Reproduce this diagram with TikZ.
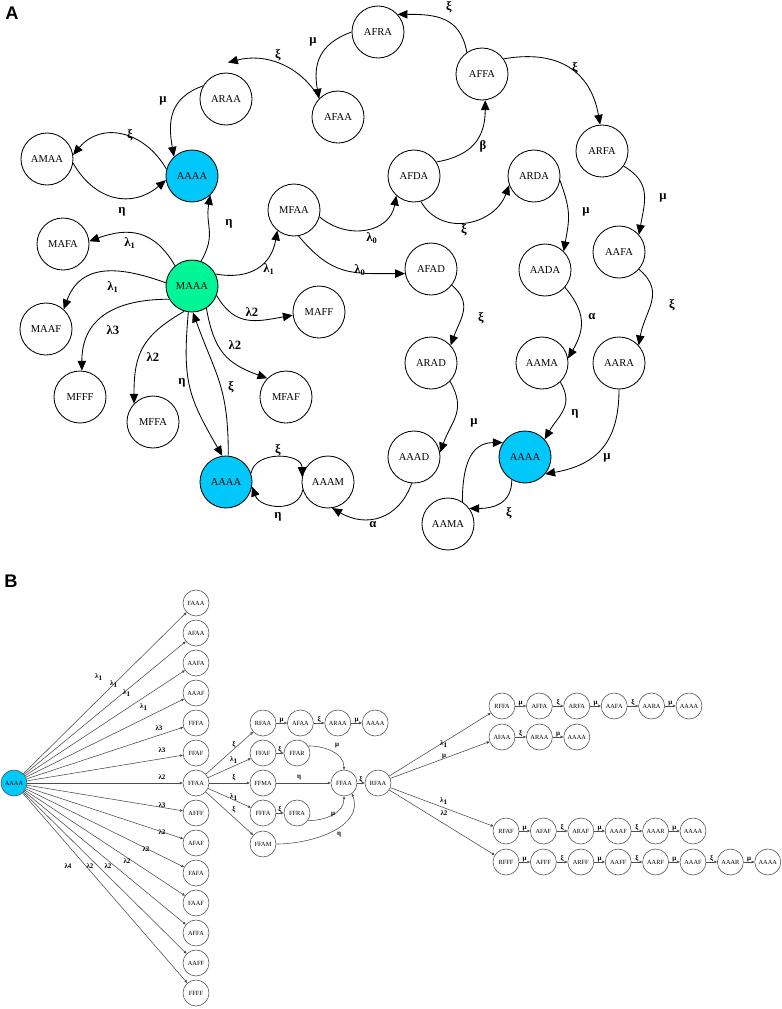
\documentclass[tikz,border=0pt]{standalone}
\usepackage{fontspec}
\setmainfont{Liberation Serif}
\newfontfamily\panelfont{Liberation Sans}
\usetikzlibrary{arrows.meta,calc}

\definecolor{stateblue}{RGB}{0,200,250}
\definecolor{stategreen}{RGB}{0,245,150}

\tikzset{
    st/.style={circle,draw,line width=0.6pt,minimum size=1.3cm,inner sep=0pt,font=\fontsize{7.5}{9}\selectfont},
    arr/.style={line width=0.6pt,-{Triangle[length=7pt,width=6pt]}},
    lab/.style={font=\fontsize{9}{10}\selectfont\bfseries,inner sep=0pt},
    bst/.style={circle,draw=black!70,line width=0.4pt,minimum size=0.65cm,inner sep=0pt,font=\fontsize{4.5}{5}\selectfont},
    barr/.style={draw=black!70,line width=0.4pt,-{Triangle[length=2pt,width=1.8pt]}},
    blab/.style={font=\fontsize{5}{6}\selectfont\bfseries,inner sep=0.5pt},
    panel/.style={font=\panelfont\fontsize{13}{14}\selectfont\bfseries,inner sep=0pt}
}

\begin{document}
\begin{tikzpicture}[x=0.025cm,y=0.025cm]
        \useasboundingbox (0,0) rectangle (782,-1009);

        % A: Zustaende
        \node[panel] (pA) at (12,-13) {A};
        \foreach \n/\t/\x/\y in {AFRA/AFRA/378/32,ARAA/ARAA/226/99,AFAA/AFAA/338/117,AMAA/AMAA/47/159,
            MFAA/MFAA/294/210,MAFA/MAFA/63/244,AFFA/AFFA/482/74,ARFA/ARFA/602/151,AFDA/AFDA/414/176,
            ARDA/ARDA/534/176,AADA/AADA/545/270,AAFA/AAFA/619/252,AFAD/AFAD/431/269,MAAF/MAAF/46/329,
            MAFF/MAFF/319/312,MFFF/MFFF/80/397,MFFA/MFFA/153/422,MFAF/MFAF/286/397,AAAM/AAAM/328/482,
            ARAD/ARAD/431/363,AAMA/AAMA/542/363,AARA/AARA/619/363,AAAD/AAAD/414/457,AAMAl/AAMA/448/524}
            {
                \node[st] (\n) at (\x,-\y) {\t};
            }
        \node[st,fill=stateblue] (AAAAt) at (192,-176) {AAAA};
        \node[st,fill=stateblue] (AAAAb) at (226,-482) {AAAA};
        \node[st,fill=stateblue] (AAAAr) at (525,-457) {AAAA};
        \node[st,fill=stategreen] (MAAA) at (192,-286) {MAAA};

        % A: Uebergaenge
        \foreach \s/\a/\t/\b/\o/\i in {ARAA/150/AAAAt/133/200/100,AFRA/180/AFAA/136/200/100,
            AFFA/125/AFRA/42/100/0,AFFA/35/ARFA/94/10/100,AFDA/32/AFFA/277/10/-90,
            AFDA/-75/ARDA/200/-60/-110,ARDA/-10/AADA/45/-70/80,ARFA/-35/AAFA/41/-30/80,
            AAFA/-41/AARA/42/-40/80,AARA/-90/AAAAr/-40/-90/10,AAMA/-46/AAAAr/42/-60/60,
            AADA/-41/AAMA/10/-50/60,AFAD/-38/ARAD/42/-40/70,ARAD/-44/AAAD/10/-60/70,
            AAAD/-95/AAAM/-81/-110/-30,AAAAr/-120/AAMAl/36/-90/0,AAMAl/57/AAAAr/147/90/180,
            AAAAb/19/AAAM/169/80/90,AAAM/197/AAAAb/-10/-100/-70,MAAA/-98/AAAAb/98/-95/120,
            AAAAb/85/MAAA/-88/90/-70,MAAA/173/MAAF/48/160/70,MAAA/210/MFFF/86/180/90,
            MAAA/253/MFFA/136/210/90,MAAA/-57/MFAF/135/-80/160,MAAA/-21/MAFF/187/-60/190,
            MAAA/27/MFAA/231/-10/-100,MAAA/130/MAFA/6/120/20,MAAA/70/AAAAt/-46/60/-100,
            AAAAt/165/AMAA/9/120/50,AMAA/-9/AAAAt/189/-60/-140,MFAA/-15/AFDA/228/-40/-100,
            MFAA/-80/AFAD/190/-50/180}
            {
                \draw[arr] (\s.\a) to[out=\o,in=\i,looseness=1.2] (\t.\b);
            }
        \draw[arr] (AFAA.135) to[out=120,in=15] ($(ARAA.north)+(2,10)$);

        % A: Raten
        \foreach \x/\y/\t in {163/101/μ,278/55/ξ,313/42/μ,449/7/ξ,575/68/ξ,483/146/β,464/230/ξ,
            586/212/μ,663/198/μ,607/458/μ,575/414/η,592/317/α,474/423/μ,373/525/α,278/450/ξ,
            278/517/η,182/383/η,113/287/{λ\textsubscript{1}},113/330/λ3,153/357/λ2,235/345/λ2,
            252/312/λ2,269/269/{λ\textsubscript{1}},130/243/{λ\textsubscript{1}},229/224/η,
            130/135/ξ,122/212/η,372/238/{λ\textsubscript{0}},360/270/{λ\textsubscript{0}},
            672/305/ξ,481/318/ξ,509/513/ξ,231/387/ξ}
            {
                \node[lab] at (\x,-\y) {\t};
            }

        % B: Baum
        \node[panel] (pB) at (11,-581) {B};
        \node[bst,fill=stateblue] (root) at (14,-783) {AAAA};
        \foreach \t/\l/\lx/\ly [count=\i] in {FAAA/{λ\textsubscript{1}}/99/677,AFAA/{λ\textsubscript{1}}/114/684,
            AAFA/{λ\textsubscript{1}}/127/693,AAAF/{λ\textsubscript{1}}/144/707,FFFA/λ3/159/728,
            FFAF/λ3/162/750,FFAA/λ2/162/777,AFFF/λ3/162/805,AFAF/λ2/162/832,FAFA/λ2/146/849,
            FAAF/λ2/127/861,AFFA/λ2/108/866,AAFF/λ2/90/866,FFFF/λ4/68/866}
            {
                \node[bst] (c\i) at (196,{-603-30*(\i-1)}) {\t};
                \draw[barr] (root) -- (c\i);
                \node[blab] at (\lx,-\ly) {\l};
            }

        % FFAA weiter
        \foreach \t/\y/\l/\ly [count=\i] in {RFAA/723/ξ/745,FFAF/753/{λ\textsubscript{1}}/760,
            FFMA/783/ξ/778,FFFA/813/{λ\textsubscript{1}}/797,FFAM/844/ξ/810}
            {
                \node[bst] (d\i) at (263,-\y) {\t};
                \draw[barr] (c7) -- (d\i);
                \node[blab] at (234,-\ly) {\l};
            }
        \foreach \t [count=\i] in {AFAA,ARAA,AAAA}
            \node[bst] (e\i) at ({263+37.4*\i},-723) {\t};
        \draw[barr] (d1) -- node[blab,above=-0.5pt] {μ} (e1);
        \draw[barr] (e1) -- node[blab,above=-0.5pt] {ξ} (e2);
        \draw[barr] (e2) -- node[blab,above=-0.5pt] {μ} (e3);
        \node[bst] (f1) at (297,-753) {FFAR};
        \node[bst] (f2) at (297,-813) {FFRA};
        \node[bst] (g1) at (344,-783) {FFAA};
        \node[bst] (h1) at (378,-783) {RFAA};
        \draw[barr] (d2) -- node[blab,above=-0.5pt] {ξ} (f1);
        \draw[barr] (d4) -- node[blab,above=-0.5pt] {ξ} (f2);
        \draw[barr] (d3) -- (g1);
        \node[blab] at (299,-778) {η};
        \draw[barr] (f1.32) to[out=0,in=90] (g1.90);
        \node[blab] at (337,-746) {μ};
        \draw[barr] (f2.-35) to[out=0,in=-90] (g1.-90);
        \node[blab] at (333,-815) {μ};
        \draw[barr] (d5.east) to[out=0,in=-70] (g1.-53);
        \node[blab] at (339,-835) {η};
        \draw[barr] (g1) -- node[blab,above=-0.5pt] {ξ} (h1);

        % RFAA: vier Ketten
        \foreach \t [count=\i] in {RFFA,AFFA,ARFA,AAFA,AARA,AAAA}
            \node[bst] (ra\i) at ({502+37.4*(\i-1)},-706) {\t};
        \foreach \t [count=\i] in {AFAA,ARAA,AAAA}
            \node[bst] (rb\i) at ({502+37.4*(\i-1)},-737) {\t};
        \foreach \t [count=\i] in {RFAF,AFAF,ARAF,AAAF,AAAR,AAAA}
            \node[bst] (rc\i) at ({506+37.4*(\i-1)},-831) {\t};
        \foreach \t [count=\i] in {RFFF,AFFF,ARFF,AAFF,AARF,AAAF,AAAR,AAAA}
            \node[bst] (rd\i) at ({506+37.4*(\i-1)},-862) {\t};

        \foreach \r/\l/\ly in {ra/{λ\textsubscript{1}}/744,rb/μ/757,rc/{λ\textsubscript{1}}/801,rd/λ2/813}
            {
                \draw[barr] (h1) -- (\r1);
                \node[blab] at (444,-\ly) {\l};
            }
        \foreach \e [count=\i] in {μ,ξ,μ,ξ,μ}
            {
                \pgfmathtruncatemacro\j{\i+1}
                \draw[barr] (ra\i) -- node[blab,above=-0.5pt] {\e} (ra\j);
                \draw[barr] (rc\i) -- node[blab,above=-0.5pt] {\e} (rc\j);
            }
        \foreach \e [count=\i] in {ξ,μ}
            {
                \pgfmathtruncatemacro\j{\i+1}
                \draw[barr] (rb\i) -- node[blab,above=-0.5pt] {\e} (rb\j);
            }
        \foreach \e [count=\i] in {μ,ξ,μ,ξ,μ,ξ,μ}
            {
                \pgfmathtruncatemacro\j{\i+1}
                \draw[barr] (rd\i) -- node[blab,above=-0.5pt] {\e} (rd\j);
            }

    \end{tikzpicture}
\end{document}
